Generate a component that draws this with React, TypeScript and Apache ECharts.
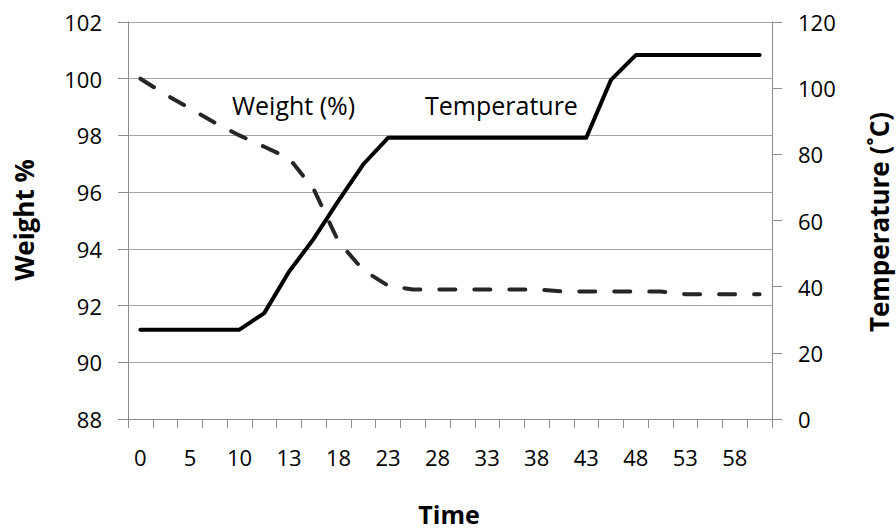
import React, { useEffect, useRef } from "react";
import * as echarts from "echarts";

const timeCategories = [
  "0", "3", "5", "8", "10", "12", "13", "16", "18", "21", "23", "26", "28",
  "31", "33", "36", "38", "41", "43", "46", "48", "51", "53", "56", "58", "61",
];
const weightValues = [
  100.0, 99.45, 98.95, 98.45, 98.0, 97.6, 97.2, 96.1, 94.25, 93.25, 92.7, 92.57, 92.57,
  92.57, 92.57, 92.57, 92.57, 92.5, 92.5, 92.5, 92.5, 92.5, 92.4, 92.4, 92.4, 92.4,
];
const temperatureValues = [
  27, 27, 27, 27, 27, 32, 44.5, 54.5, 66, 77, 85, 85, 85,
  85, 85, 85, 85, 85, 85, 102.5, 110, 110, 110, 110, 110, 110,
];
const weightAxis = { min: 88, max: 102, interval: 2 };
const tempAxis = { min: 0, max: 120, interval: 20 };

const FONT = "'Open Sans', sans-serif";
const AXIS_COLOR = "#8c8c8c";
const GRID_COLOR = "#a6a6a6";

export default function App() {
  const ref = useRef<HTMLDivElement>(null);
  useEffect(() => {
    if (!ref.current) return;
    const chart = echarts.init(ref.current, null, { renderer: "svg" });
    chart.setOption({
      animation: false,
      backgroundColor: "#ffffff",
      grid: { left: 128, right: 124, top: 22, bottom: 112, containLabel: false },
      xAxis: {
        type: "category",
        data: timeCategories,
        boundaryGap: true,
        axisLine: { lineStyle: { color: AXIS_COLOR, width: 1 } },
        axisTick: { show: true, interval: 0, length: 9, lineStyle: { color: AXIS_COLOR } },
        axisLabel: { interval: 1, margin: 27, color: "#000", fontSize: 22, fontFamily: FONT },
        splitLine: { show: false },
      },
      yAxis: [
        {
          type: "value",
          position: "left",
          min: weightAxis.min,
          max: weightAxis.max,
          interval: weightAxis.interval,
          axisLine: { show: true, lineStyle: { color: AXIS_COLOR } },
          axisTick: { show: true, length: 10, lineStyle: { color: AXIS_COLOR } },
          axisLabel: { margin: 26, color: "#000", fontSize: 22, fontFamily: FONT },
          splitLine: { show: true, lineStyle: { color: GRID_COLOR, width: 1 } },
        },
        {
          type: "value",
          position: "right",
          min: tempAxis.min,
          max: tempAxis.max,
          interval: tempAxis.interval,
          axisLine: { show: true, lineStyle: { color: AXIS_COLOR } },
          axisTick: { show: true, length: 10, lineStyle: { color: AXIS_COLOR } },
          axisLabel: { margin: 26, color: "#000", fontSize: 22, fontFamily: FONT },
          splitLine: { show: false },
        },
      ],
      series: [
        {
          name: "Weight (%)",
          type: "line",
          yAxisIndex: 0,
          data: weightValues,
          symbol: "none",
          lineStyle: { color: "#262626", width: 4, type: [16, 19], cap: "round" },
          z: 3,
        },
        {
          name: "Temperature",
          type: "line",
          yAxisIndex: 1,
          data: temperatureValues,
          symbol: "none",
          lineStyle: { color: "#000000", width: 4, cap: "round", join: "round" },
          z: 4,
        },
      ],
      graphic: [
        {
          type: "text",
          left: 232,
          top: 92,
          style: { text: "Weight (%)", fill: "#000", font: `25px ${FONT}` },
        },
        {
          type: "text",
          left: 425,
          top: 92,
          style: { text: "Temperature", fill: "#000", font: `25px ${FONT}` },
        },
        {
          type: "text",
          x: 24,
          y: 220,
          rotation: Math.PI / 2,
          style: {
            text: "Weight %",
            fill: "#000",
            font: `bold 26px ${FONT}`,
            align: "center",
            verticalAlign: "middle",
          },
        },
        {
          type: "text",
          x: 879,
          y: 222,
          rotation: Math.PI / 2,
          style: {
            text: "Temperature (˚C)",
            fill: "#000",
            font: `bold 26px ${FONT}`,
            align: "center",
            verticalAlign: "middle",
          },
        },
        {
          type: "text",
          x: 449,
          y: 514,
          style: {
            text: "Time",
            fill: "#000",
            font: `bold 25px ${FONT}`,
            align: "center",
            verticalAlign: "middle",
          },
        },
      ],
    });
    return () => chart.dispose();
  }, []);
  return (
    <div
      ref={ref}
      style={{ position: "fixed", left: 0, top: 0, width: 896, height: 531 }}
    />
  );
}
